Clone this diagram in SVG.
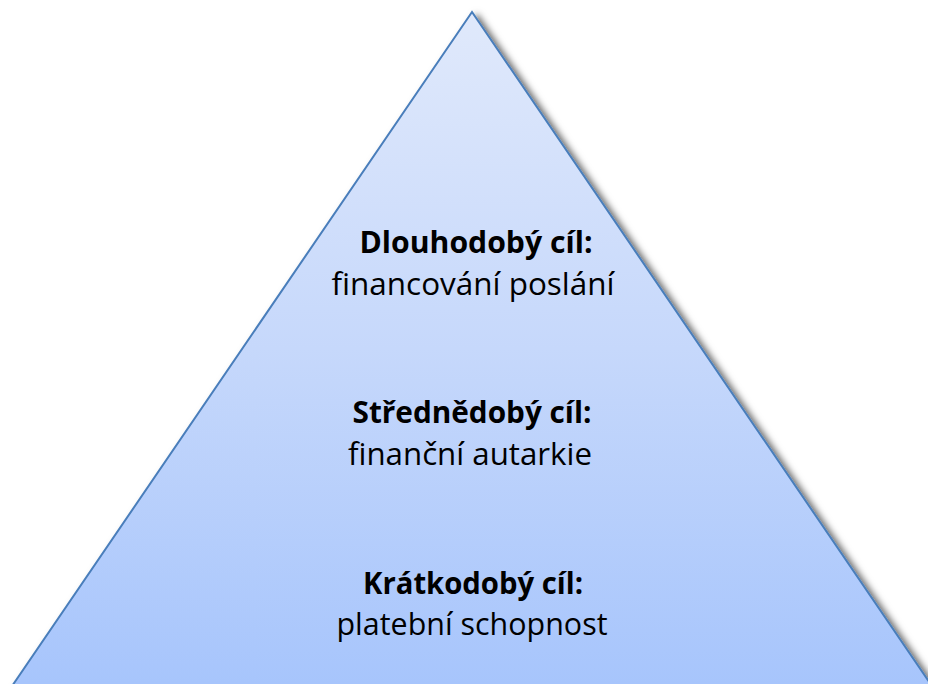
<svg xmlns="http://www.w3.org/2000/svg" width="928" height="684" viewBox="0 0 928 684">
  <defs>
    <linearGradient id="fill" x1="0" y1="12" x2="0" y2="684" gradientUnits="userSpaceOnUse">
      <stop offset="0" stop-color="#e0e9fb"/>
      <stop offset="0.5" stop-color="#c6d8fb"/>
      <stop offset="1" stop-color="#a7c5fc"/>
    </linearGradient>
    <filter id="shadow" x="-10%" y="-10%" width="120%" height="120%">
      <feDropShadow dx="5" dy="3" stdDeviation="3.5" flood-color="#000" flood-opacity="0.6"/>
    </filter>
    <style>
      .b { font-family: "Open Sans", "Liberation Sans", sans-serif; font-weight: bold; font-size: 31px; fill: #000; text-anchor: middle; }
      .r { font-family: "Open Sans", "Liberation Sans", sans-serif; font-size: 31px; fill: #000; text-anchor: middle; }
    </style>
  </defs>
  <g id="pyramid">
    <polygon points="472,12 8,692 936,692" fill="url(#fill)" stroke="#4a7ebb" stroke-width="2" stroke-linejoin="miter" filter="url(#shadow)"/>
  </g>
  <g id="long-term">
    <text class="b" x="476" y="253" textLength="233" lengthAdjust="spacingAndGlyphs">Dlouhodobý cíl:</text>
    <text class="r" x="473" y="295" textLength="283" lengthAdjust="spacingAndGlyphs">financování poslání</text>
  </g>
  <g id="mid-term">
    <text class="b" x="472" y="423" textLength="239" lengthAdjust="spacingAndGlyphs">Střednědobý cíl:</text>
    <text class="r" x="470" y="465" textLength="244" lengthAdjust="spacingAndGlyphs">finanční autarkie</text>
  </g>
  <g id="short-term">
    <text class="b" x="473" y="594" textLength="220" lengthAdjust="spacingAndGlyphs">Krátkodobý cíl:</text>
    <text class="r" x="472" y="635" textLength="271" lengthAdjust="spacingAndGlyphs">platební schopnost</text>
  </g>
  <g id="connectors"/>
</svg>
